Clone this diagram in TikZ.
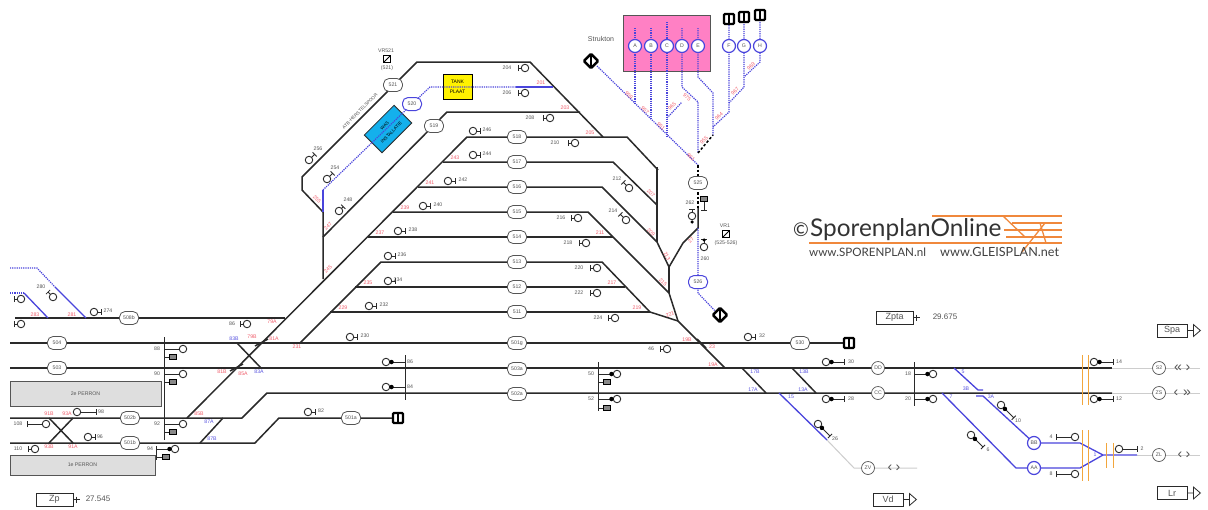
\documentclass[tikz,border=0pt]{standalone}
\usepackage{fontspec}
\setmainfont{Liberation Sans}
\newfontfamily\logofont{Lato}
\usepackage{xcolor}
\usetikzlibrary{calc}
\definecolor{rail}{HTML}{2A2A2A}
\definecolor{railblue}{HTML}{4A45DC}
\definecolor{railgrey}{HTML}{CDCDCD}
\definecolor{numgrey}{HTML}{555555}
\definecolor{numred}{HTML}{F0606E}
\definecolor{numblue}{HTML}{5A55E0}
\definecolor{perron}{HTML}{DEDEDE}
\definecolor{pinkbox}{HTML}{FF80C4}
\definecolor{cyanbox}{HTML}{14B0EC}
\definecolor{logoorange}{HTML}{F0883C}
\definecolor{catenary}{HTML}{F2A63C}
\tikzset{
  font=\fontsize{5.2}{6}\selectfont,
  track/.style={draw=rail, line width=1.5pt, line join=round},
  bluetrack/.style={draw=railblue, line width=1.3pt, line join=round},
  bluedot/.style={draw=railblue, line width=1.2pt, dash pattern=on 1.2pt off 1pt},
  blackdash/.style={draw=black, line width=1.5pt, dash pattern=on 2.5pt off 2pt},
  greytrack/.style={draw=railgrey, line width=1pt},
  stem/.style={draw=rail, line width=.8pt},
  catline/.style={draw=catenary, line width=1pt},
  logoline/.style={draw=logoorange, line width=1.3pt},
  trackoval/.style={draw=numgrey, line width=.8pt, fill=white, rounded corners=5.5pt, minimum width=19pt, minimum height=13pt, inner sep=0pt, text=numgrey},
  blueoval/.style={trackoval, draw=railblue, line width=1pt},
  sectcirc/.style={circle, draw=numgrey, line width=.7pt, fill=white, minimum size=13pt, inner sep=0pt, text=numgrey},
  bluecirc/.style={sectcirc, draw=railblue, line width=1.2pt},
  sigring/.style={circle, draw=rail, line width=.9pt, fill=white, minimum size=7.5pt, inner sep=0pt},
  sigdot/.style={circle, fill=black, minimum size=4.5pt, inner sep=0pt},
  sigbox/.style={draw=black, line width=.8pt, fill=numgrey!70, minimum width=6.5pt, minimum height=5.5pt, inner sep=0pt},
  bufstop/.style={draw=black, line width=2.4pt, fill=white, minimum width=10pt, minimum height=10pt, inner sep=0pt, rounded corners=1pt,
    path picture={\draw[black, line width=2.4pt] (path picture bounding box.north) -- (path picture bounding box.south);}},
  statbox/.style={draw=rail, line width=.8pt, fill=white, minimum width=30pt, minimum height=13pt, inner sep=0pt, text=numgrey, font=\fontsize{9}{10}\selectfont},
  signbox/.style={draw=black, line width=.8pt, minimum size=7.5pt, inner sep=0pt, path picture={\draw[black] (path picture bounding box.south west) -- (path picture bounding box.north east);}},
  numlabel/.style={text=numgrey, inner sep=0pt},
  redlabel/.style={text=numred, inner sep=0pt},
  bluelabel/.style={text=numblue, inner sep=0pt},
  perronbox/.style={draw=numgrey, line width=.7pt, fill=perron, inner sep=0pt, text=numgrey}
}
\begin{document}
\begin{tikzpicture}[x=1pt,y=-1pt]
  \useasboundingbox[fill=white] (0,0) rectangle (1208,509);

  % platforms and yards
  \node[perronbox, minimum width=151pt, minimum height=25pt] (perron2) at (85.5,393.5) {2e PERRON};
  \node[perronbox, minimum width=145pt, minimum height=20pt] (perron1) at (82.5,465) {1e PERRON};
  \fill[white] (0,375) rectangle (10.4,480);
  \node[draw=numgrey, line width=.8pt, fill=pinkbox, minimum width=87pt, minimum height=56pt] (strukton) at (666.5,43) {};
  \node[text=numgrey, font=\fontsize{7}{8}\selectfont, inner sep=0pt] (struktonlabel) at (601,39) {Strukton};
  \node[draw=black, line width=.8pt, fill=yellow, minimum width=29pt, minimum height=25pt, align=center, inner sep=0pt, font=\fontsize{5}{8.2}\selectfont] (tank) at (457.5,86.5) {TANK\\[1.6pt]PLAAT};
  \node[draw=rail, line width=.8pt, fill=cyanbox, minimum width=42pt, minimum height=25pt, rotate=45, align=center, inner sep=0pt, font=\fontsize{4.5}{8}\selectfont] (wasbox) at (388,129) {WAS\\[1.6pt]INSTALLATIE};

  % black tracks
  \draw[track] (187,418) -- (467,137) -- (627,137) -- (658,170);
  \draw[track] (15,318) -- (285,318);
  \draw[track] (10,343) -- (849,343);
  \draw[track] (10,368) -- (1112,368);
  \draw[track] (10,418) -- (242,418) -- (267,393) -- (1112,393);
  \draw[track] (10,443) -- (255,443) -- (279,418) -- (398,418);
  \draw[track] (443,162) -- (613,162) -- (657,205);
  \draw[track] (418,187) -- (602,187) -- (657,242) -- (669,267);
  \draw[track] (393,212) -- (588,212) -- (669,293) -- (678,321) -- (725,368);
  \draw[track] (368,237) -- (613,237);
  \draw[track] (300,343) -- (381,262) -- (602,262) -- (650,312) -- (678,321);
  \draw[track] (355,287) -- (625,287);
  \draw[track] (330,312) -- (650,312);
  \draw[track] (657,167) -- (657,242);
  \draw[track] (669,267) -- (669,293);
  \draw[track] (669,267) -- (683,243) -- (698,228) -- (698,208);
  \draw[track] (323,237) -- (447,112) -- (580,112);
  \draw[track] (323,279) -- (323,212) -- (302,190) -- (302,177) -- (417,62) -- (530,62) -- (603,137);
  \draw[track] (237,343) -- (261,368);
  \draw[track] (255,346) -- (268,339);
  \draw[track] (230,371) -- (243,364);
  \draw[track] (697,339) -- (706,348);
  \draw[track] (200,443) -- (223,418);
  \draw[track] (49,418) -- (73,443);
  \draw[track] (73,418) -- (49,443);
  \draw[track] (742,368) -- (766,393);
  \draw[track] (792,368) -- (816,393);

  % grey ends
  \draw[greytrack] (1112,368) -- (1200,368);
  \draw[greytrack] (1112,393) -- (1200,393);
  \draw[greytrack] (1137,455) -- (1200,455);
  \draw[greytrack] (827,440) -- (854,468) -- (917,468);

  % blue tracks
  \draw[bluetrack] (954,368) -- (978,390) -- (983,390);
  \draw[bluetrack] (976,396) -- (983,396) -- (1034,443) -- (1080,443) -- (1103,455) -- (1137,455);
  \draw[bluetrack] (942,393) -- (1016,468) -- (1080,468) -- (1103,455);
  \draw[bluetrack] (779,393) -- (827,440);
  \draw[bluetrack] (55,287) -- (86,318);
  \draw[bluetrack] (24,293) -- (48,318);
  \draw[bluetrack] (323,190) -- (323,212);
  \draw[bluetrack] (516,87) -- (553,87);
  \draw[bluedot] (10,268) -- (37,268) -- (55,287);
  \draw[bluedot] (10,293) -- (24,293);
  \draw[bluedot] (323,190) -- (412,104) -- (430,87) -- (516,87);
  \draw[bluedot] (597,66) -- (698,165);
  \draw[bluedot] (635,28) -- (635,103);
  \draw[bluedot] (651,28) -- (651,120);
  \draw[bluedot] (667,22) -- (667,137);
  \draw[bluedot] (667,118) -- (682,102);
  \draw[bluedot] (682,28) -- (682,87) -- (698,102) -- (698,153);
  \draw[bluedot] (698,28) -- (698,77) -- (713,93) -- (713,135);
  \draw[bluedot] (729,23) -- (729,112) -- (713,127);
  \draw[bluedot] (744,22) -- (744,87) -- (729,103);
  \draw[bluedot] (760,20) -- (760,62) -- (744,77);
  \draw[bluedot] (698,228) -- (698,282) -- (698,293) -- (717,313);
  \draw[blackdash] (698,153) -- (713,135);
  \draw[blackdash] (698,165) -- (698,208);

  % catenary marks
  \foreach \x/\ya/\yb in {1082/355/405,1088/355/405,1082/430/481,1088/430/481,1106/443/468,1113/443/468} {
    \draw[catline] (\x,\ya) -- (\x,\yb);
  }

  % post bars
  \foreach \x/\ya/\yb in {164/337/440,156/447/460,405/355/400,598/362/411,914/362/406} {
    \draw[stem, line width=1pt] (\x,\ya) -- (\x,\yb);
  }

  % track numbers
  \foreach \name/\x/\y in {508b/129/318,504/57/343,503/57/368,502b/130/418,501b/130/443,521/393/85,519/434/126,518/517/137,517/517/162,516/517/187,515/517/212,514/517/237,513/517/262,512/517/287,511/517/312,501g/517/343,503a/517/369,502a/517/394,501a/351/418,530/800/343,525/698/183} {
    \node[trackoval] (o\name) at (\x,\y) {\name};
  }
  \foreach \name/\x/\y in {520/412/104,526/698/282} {
    \node[blueoval] (o\name) at (\x,\y) {\name};
  }
  \foreach \name/\x/\y in {DD/878/368,CC/878/393,ZV/868/468,S2/1159/368,ZS/1159/393,ZL/1159/455} {
    \node[sectcirc] (c\name) at (\x,\y) {\name};
  }
  \foreach \name/\x/\y in {BB/1034/443,AA/1034/468,A/635/46,B/651/46,C/667/46,D/682/46,E/698/46,F/729/46,G/744/46,H/760/46} {
    \node[bluecirc] (c\name) at (\x,\y) {\name};
  }

  % buffer stops
  \foreach \name/\x/\y/\r in {west/591/61/-45,south/720/315/-45,f/729/19/90,g/744/17/90,h/760/15/90,a/398/418/0,b/849/343/0} {
    \node[bufstop, rotate=\r] (stop\name) at (\x,\y) {};
  }

  % signals: x, y, direction, post length
  \foreach \x/\y/\ang/\len in {94/312/0/7,473/131/0/7,473/155/0/7,448/181/0/7,423/206/0/7,398/231/0/7,388/256/0/7,388/281/0/7,369/306/0/7,350/337/0/7,88/437/0/7,77/412/0/19,308/412/0/7,748/337/0/7,1119/449/0/18,
    247/324/180/7,525/68/180/7,525/93/180/7,550/118/180/7,575/143/180/7,578/218/180/7,586/243/180/7,597/268/180/7,597/293/180/7,615/318/180/7,667/349/180/7,35/449/180/7,46/424/180/19,21/299/180/7,21/324/180/7,1075/437/180/19,1075/474/180/19,
    53/297/135/7,309/160/45/8,327/179/45/8,339/211/45/6,629/188/135/8,626/220/135/8,692/216/90/7,704/247/90/8,
    183/349/180/19,183/374/180/19,183/424/180/19} {
    \begin{scope}[shift={(\x,\y)}, rotate=\ang]
      \draw[stem] (0,0) -- (\len,0) (\len,-3) -- (\len,3);
      \node[sigring] at (0,0) {};
    \end{scope}
  }
  \foreach \x/\y/\ang/\len in {386/362/0/19,386/387/0/19,617/374/180/19,617/399/180/19,826/362/0/18,826/399/0/18,818/424/-45/17,1001/405/-45/18,971/435/-45/17,1094/362/0/19,1094/399/0/19,933/374/180/19,933/399/180/19,175/449/180/19} {
    \begin{scope}[shift={(\x,\y)}, rotate=\ang]
      \draw[stem] (0,0) -- (\len,0) (\len,-3) -- (\len,3);
      \node[sigring] at (0,0) {};
      \node[sigdot] at (5.5,0) {};
    \end{scope}
  }
  \node[sigdot, minimum size=3.5pt] (dot262) at (692,222) {};
  \node[sigdot, minimum size=3.5pt] (dot260) at (704,240) {};
  \foreach \xa/\xb/\y in {164/173/357,164/173/382,164/173/432,156/166/457,598/607/382,598/607/408} {
    \draw[stem] (\xa,\y) -- (\xb,\y);
    \node[sigbox] at (\xb,\y) {};
  }
  \draw[stem] (704,199) -- (704,210) (701,210) -- (707,210);
  \node[sigbox] (sigbox260) at (704,199) {};

  % signal numbers
  \foreach \x/\y/\t in {108/311/274,487/130/246,487/154/244,463/180/242,438/205/240,413/230/238,402/255/236,398/280/234,384/305/232,365/336/230,100/437/96,101/412/98,321/411/82,762/336/32,232/324/86,507/68/204,507/93/206,530/118/208,555/143/210,561/218/216,568/243/218,579/268/220,579/293/222,598/318/224,651/349/46,18/449/110,18/424/108,41/287/280,318/149/256,335/168/254,348/200/248,617/179/212,613/211/214,690/203/262,705/259/260,410/362/86,410/387/84,591/374/50,591/399/52,851/362/30,851/399/28,835/439/26,1018/421/10,988/450/6,1119/362/14,1119/399/12,908/374/18,908/399/20,1051/437/4,1051/474/8,1142/449/2,157/349/88,157/374/90,157/424/92,150/449/94} {
    \node[numlabel] (n\t) at (\x,\y) {\t};
  }

  % switch numbers
  \foreach \x/\y/\r/\t in {35/315/0/283,72/315/0/281,272/322/0/79A,252/337/0/79B,274/339/0/81A,222/372/0/81B,243/374/0/85A,199/414/0/85B,49/414/0/91B,67/414/0/93A,49/447/0/93B,73/447/0/91A,297/347/0/231,343/308/0/229,368/283/0/235,380/233/0/237,405/208/0/239,430/183/0/241,455/158/0/243,328/226/45/247,328/269/45/245,317/199/-45/255,541/83/0/201,565/108/0/203,590/133/0/205,651/193/-45/207,651/232/-45/209,600/233/0/211,667/256/-60/213,663/282/-45/215,612/283/0/217,637/308/0/219,670/314/20/221,687/340/0/19B,712/347/0/23,713/365/0/19A,691/240/45/27,629/95/-45/959,645/110/-45/957,661/126/-45/951,691/157/-45/961,672/106/45/965,687/97/-45/975,704/140/45/955,719/116/45/964,735/91/45/967,751/66/45/969} {
    \node[redlabel, rotate=\r] (r\t) at (\x,\y) {\t};
  }
  \foreach \x/\y/\t in {234/339/83B,259/372/83A,209/422/87A,212/439/87B,755/372/17B,753/390/17A,804/372/13B,803/390/13A,791/397/15,966/389/3B,991/397/3A,963/372/5,951/397/7,1095/455/1} {
    \node[bluelabel] (b\t) at (\x,\y) {\t};
  }

  % signs and texts
  \node[numlabel, rotate=45, font=\fontsize{4.6}{5}\selectfont] (atb) at (360,111) {ATB-HERSTELSPOOR};
  \node[numlabel] (vr521) at (386,51) {VR521};
  \node[signbox] (vr521box) at (387,59) {};
  \node[numlabel] (vr521sub) at (387,68) {(521)};
  \node[numlabel] (vr1) at (725,226) {VR1};
  \node[signbox] (vr1box) at (726,234) {};
  \node[numlabel] (vr1sub) at (726,243) {(525-526)};

  % line directions
  \foreach \x/\y/\t in {1178/368/«,1188/368/›,1176/393/‹,1187/393/»,1180/455/‹,1188/455/›,890/468/‹,898/468/›} {
    \node[numlabel, font=\fontsize{14}{14}\selectfont] at (\x,\y) {\t};
  }

  % station boxes
  \foreach \name/\x/\y in {Spa/1172/330.5,Vd/888/499.5,Lr/1172/493} {
    \node[statbox] (st\name) at (\x,\y) {\name};
    \draw[stem] (st\name.east) -- ++(6,0) ++(0,-6) -- ++(0,12) -- ++(7,-6) -- cycle;
  }
  \node[statbox, minimum width=37pt] (stZp) at (54.5,499.5) {Zp};
  \draw[stem] (stZp.east) -- ++(7,0) ++(-4,-3) -- ++(0,6);
  \node[text=numgrey, font=\fontsize{8}{9}\selectfont, inner sep=0pt] (kmZp) at (98,499) {27.545};
  \node[statbox, minimum width=37pt] (stZpta) at (894.5,317.5) {Zpta};
  \draw[stem] (stZpta.east) -- ++(7,0) ++(-4,-3) -- ++(0,6);
  \node[text=numgrey, font=\fontsize{8}{9}\selectfont, inner sep=0pt] (kmZpta) at (945,317) {29.675};

  % logo
  \foreach \xa/\xb/\y in {932/1062/216,1012/1062/223,1004/1062/230,1006/1062/237,809/1062/243} {
    \draw[logoline] (\xa,\y) -- (\xb,\y);
  }
  \draw[logoline] (1003,216) -- (1025,237);
  \draw[logoline] (1045,223) -- (1022,252);
  \draw[logoline] (1040,223) -- (1046,243);
  \node[anchor=center, inner sep=0pt, text=black!80, font=\logofont\fontsize{19}{20}\selectfont] (logoc) at (801,230) {©};
  \node[anchor=west, inner sep=0pt, text=black!80, font=\logofont\fontsize{24.4}{26}\selectfont] (logo) at (810,230) {SporenplanOnline};
  \node[anchor=west, inner sep=0pt, text=black!75, font=\logofont\fontsize{11.6}{12}\selectfont] (logonl) at (809,252) {www.SPORENPLAN.nl};
  \node[anchor=west, inner sep=0pt, text=black!75, font=\logofont\fontsize{12.6}{13}\selectfont] (logonet) at (940,252) {www.GLEISPLAN.net};
\end{tikzpicture}
\end{document}
